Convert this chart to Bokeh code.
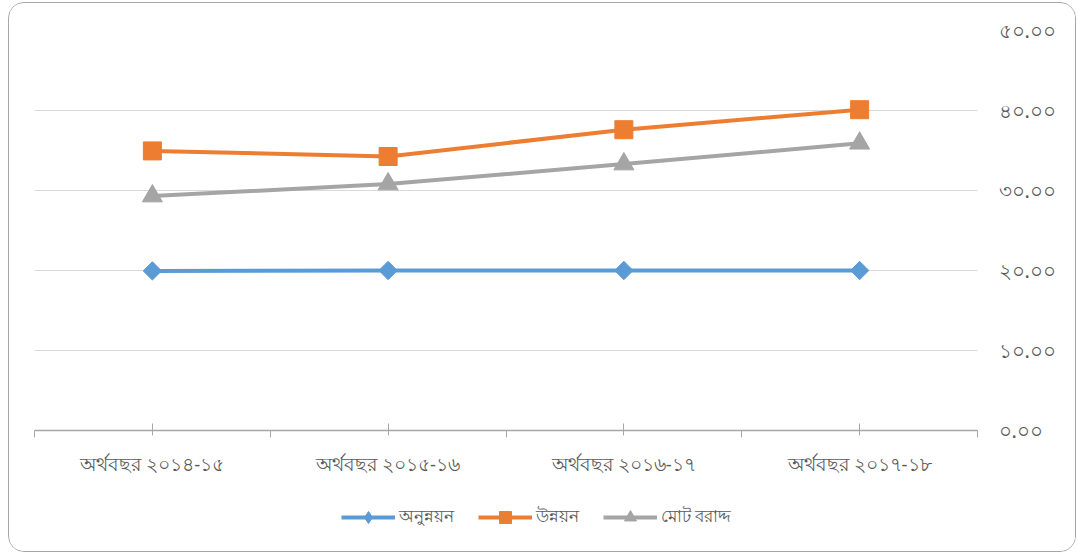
import numpy as np
from bokeh.plotting import figure
from bokeh.layouts import column
from bokeh.models import FixedTicker, Legend, LegendItem
from bokeh.embed import file_html
from bokeh.resources import INLINE

categories = ["অর্থবছর ২০১৪-১৫", "অর্থবছর ২০১৫-১৬", "অর্থবছর ২০১৬-১৭", "অর্থবছর ২০১৭-১৮"]
non_development = [19.95, 20.0, 20.0, 20.0]
development = [34.95, 34.25, 37.6, 40.1]
total_allocation = [29.3, 30.8, 33.3, 35.9]
series_names = ["অনুন্নয়ন", "উন্নয়ন", "মোট বরাদ্দ"]
y_ticks = [0, 10, 20, 30, 40, 50]
y_tick_labels = ["০.০০", "১০.০০", "২০.০০", "৩০.০০", "৪০.০০", "৫০.০০"]

FONT = "Noto Sans"
TEXT = "#595959"
colors = ["#5B9BD5", "#ED7D31", "#A5A5A5"]
data = [non_development, development, total_allocation]

x = list(np.arange(len(categories)) + 0.5)

p = figure(width=1066, height=490, x_range=(0, len(categories)), y_range=(0, 50),
           output_backend="svg", toolbar_location=None, y_axis_location="right",
           min_border_left=25, min_border_right=98, min_border_top=27, min_border_bottom=63)
p.outline_line_color = None
p.background_fill_color = "white"
p.border_fill_color = "white"

p.xgrid.grid_line_color = None
p.ygrid.grid_line_color = "#D9D9D9"
p.ygrid.ticker = FixedTicker(ticks=y_ticks)

ya = p.yaxis[0]
ya.ticker = FixedTicker(ticks=y_ticks)
ya.major_label_overrides = {t: l for t, l in zip(y_ticks, y_tick_labels)}
ya.axis_line_color = None
ya.major_tick_line_color = None
ya.minor_tick_line_color = None
ya.major_label_text_font = FONT
ya.major_label_text_font_size = "20px"
ya.major_label_text_color = TEXT
ya.major_label_standoff = 15

xa = p.xaxis[0]
xa.ticker = FixedTicker(ticks=x, minor_ticks=list(range(len(categories) + 1)))
xa.major_label_overrides = {t: c for t, c in zip(x, categories)}
xa.axis_line_color = "#A6A6A6"
xa.axis_line_width = 1.3
xa.major_tick_line_color = "#A6A6A6"
xa.major_tick_in = 7
xa.major_tick_out = 5
xa.minor_tick_line_color = "#A6A6A6"
xa.minor_tick_in = 0
xa.minor_tick_out = 7
xa.major_label_text_font = FONT
xa.major_label_text_font_size = "18.5px"
xa.major_label_text_color = TEXT
xa.major_label_standoff = 13

for vals, col, mk in zip(data, colors, ["diamond", "square", "triangle"]):
    p.line(x, vals, line_color=col, line_width=4)
    if mk == "diamond":
        p.scatter(x, vals, marker="square", angle=np.pi / 4, size=13,
                  fill_color=col, line_color=col)
    elif mk == "square":
        p.scatter(x, vals, marker="square", size=18, fill_color=col, line_color=col)
    else:
        p.scatter(x, vals, marker="triangle", size=20, fill_color=col, line_color=col)

# legend strip below the chart (same series, drawn outside its visible range)
lf = figure(width=1066, height=58, x_range=(-100, -99), y_range=(-100, -99),
            output_backend="svg", toolbar_location=None,
            x_axis_location=None, y_axis_location=None,
            min_border_left=0, min_border_right=0, min_border_top=0, min_border_bottom=0)
lf.outline_line_color = None
lf.grid.visible = False
lf.background_fill_color = "white"
lf.border_fill_color = "white"
items = []
for name, vals, col, mk in zip(series_names, data, colors, ["diamond", "square", "triangle"]):
    l = lf.line(x, vals, line_color=col, line_width=4)
    s = lf.scatter(x, vals, marker=mk, fill_color=col, line_color=col)
    items.append(LegendItem(label=name, renderers=[l, s]))

legend = Legend(items=items, orientation="horizontal", location=(307, 19),
                glyph_width=54, glyph_height=30, label_standoff=4, spacing=24,
                label_text_font=FONT, label_text_font_size="17px", label_text_color=TEXT,
                border_line_color=None, background_fill_alpha=0, padding=0, margin=0)
lf.add_layout(legend, "center")

layout = column(p, lf, spacing=0)
layout.styles = {"border": "1px solid #A6A6A6", "border-radius": "16px",
                 "margin-left": "8px", "margin-top": "2px", "overflow": "hidden",
                 "background": "white"}

open("out.html", "w").write(file_html(layout, INLINE))
